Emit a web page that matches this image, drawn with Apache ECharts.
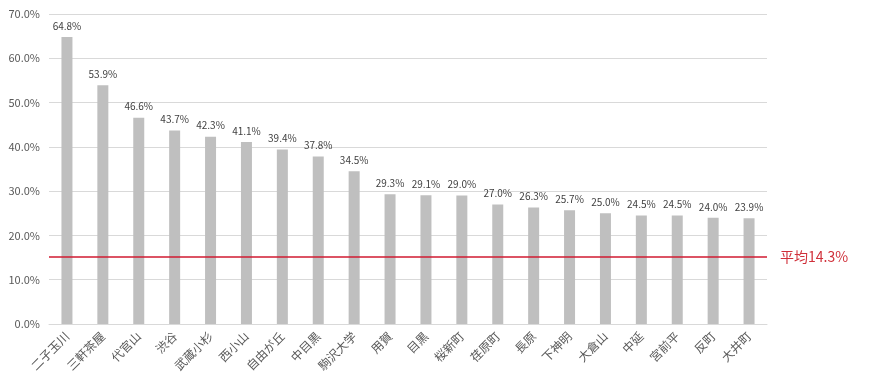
<!DOCTYPE html>
<html><head><meta charset="utf-8">
<script src="https://cdn.jsdelivr.net/npm/echarts@6/dist/echarts.min.js"></script>
<style>html,body{margin:0;padding:0;background:#fff}#c{width:896px;height:386px}</style>
</head><body><div id="c"></div>
<script>
const categories = ["二子玉川","三軒茶屋","代官山","渋谷","武蔵小杉","西小山","自由が丘","中目黒","駒沢大学","用賀","目黒","桜新町","荏原町","長原","下神明","大倉山","中延","宮前平","反町","大井町"];
const values = [64.8,53.9,46.6,43.7,42.3,41.1,39.4,37.8,34.5,29.3,29.1,29.0,27.0,26.3,25.7,25.0,24.5,24.5,24.0,23.9];
const avgLinePos = 15.1;
const avgLabel = "平均14.3%";
const yMin = 0, yMax = 70, yStep = 10;

const font = "'Noto Sans CJK JP', 'Open Sans', sans-serif";
const lineRed = '#d01a30';
const chart = echarts.init(document.getElementById('c'));
chart.setOption({
  animation: false,
  grid: {left: 49, right: 129, top: 14, bottom: 62},
  xAxis: {
    type: 'category', data: categories,
    axisLine: {lineStyle: {color: '#d9d9d9'}},
    axisTick: {show: false},
    axisLabel: {rotate: 45, color: '#595959', fontSize: 12, fontFamily: font, interval: 0, margin: 10}
  },
  yAxis: {
    type: 'value', min: yMin, max: yMax, interval: yStep,
    axisLine: {show: false}, axisTick: {show: false},
    splitLine: {lineStyle: {color: '#d9d9d9'}},
    axisLabel: {color: '#595959', fontSize: 11, fontFamily: font, margin: 9,
      formatter: v => v.toFixed(1) + '%'}
  },
  series: [{
    type: 'bar', data: values, barWidth: 11,
    itemStyle: {color: '#bfbfbf'},
    label: {show: true, position: 'top', distance: 6, color: '#404040', fontSize: 10, fontFamily: font,
      formatter: p => p.value.toFixed(1) + '%'}
  }, {
    type: 'line', data: [], silent: true,
    markLine: {
      silent: true, symbol: ['none', 'none'], z: 10,
      lineStyle: {color: lineRed, width: 1.5, type: 'solid', opacity: 1},
      label: {show: true, position: 'end', formatter: avgLabel, color: '#d0303a', fontSize: 14, fontFamily: font, distance: 13},
      data: [{yAxis: avgLinePos}]
    }
  }]
});
</script></body></html>
